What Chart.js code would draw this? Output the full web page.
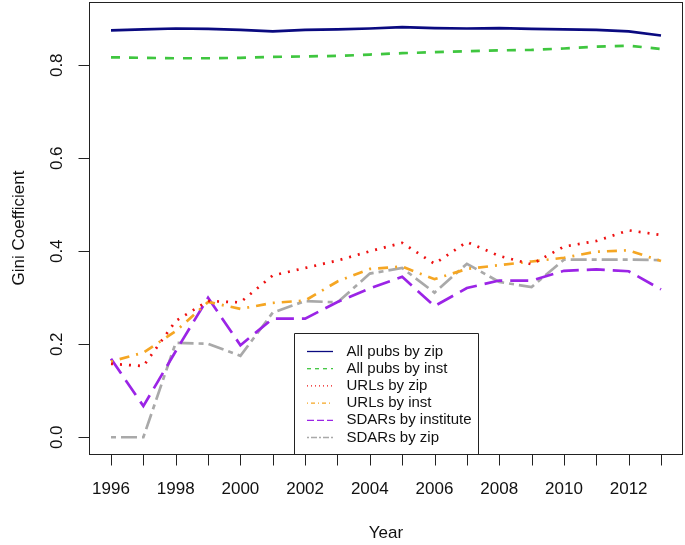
<!DOCTYPE html>
<html>
<head>
<meta charset="utf-8">
<script src="https://cdn.jsdelivr.net/npm/chart.js@4"></script>
<style>
  html, body { margin: 0; padding: 0; background: #fff; }
  canvas { display: block; }
</style>
</head>
<body>
<canvas id="chart" width="685" height="545"></canvas>
<script>
// Daten
const years = [1996, 1997, 1998, 1999, 2000, 2001, 2002, 2003, 2004, 2005, 2006, 2007, 2008, 2009, 2010, 2011, 2012, 2013];
const allPubsByZip = [0.875, 0.877, 0.879, 0.878, 0.876, 0.873, 0.876, 0.877, 0.879, 0.882, 0.880, 0.879, 0.880, 0.878, 0.877, 0.876, 0.873, 0.864];
const allPubsByInst = [0.817, 0.816, 0.815, 0.815, 0.816, 0.818, 0.819, 0.820, 0.823, 0.826, 0.828, 0.830, 0.832, 0.833, 0.836, 0.840, 0.842, 0.835];
const urlsByZip = [0.158, 0.153, 0.250, 0.293, 0.290, 0.348, 0.364, 0.380, 0.400, 0.418, 0.373, 0.420, 0.390, 0.372, 0.410, 0.422, 0.445, 0.435];
const urlsByInst = [0.163, 0.182, 0.228, 0.291, 0.276, 0.289, 0.294, 0.335, 0.362, 0.367, 0.340, 0.362, 0.370, 0.378, 0.386, 0.399, 0.402, 0.379];
const sdarsByInstitute = [0.169, 0.067, 0.185, 0.300, 0.198, 0.255, 0.255, 0.291, 0.320, 0.345, 0.282, 0.321, 0.337, 0.337, 0.358, 0.361, 0.357, 0.318];
const sdarsByZip = [0.0, 0.0, 0.203, 0.201, 0.175, 0.268, 0.293, 0.290, 0.352, 0.364, 0.311, 0.373, 0.334, 0.323, 0.382, 0.382, 0.382, 0.381];

const yTicks = [0.0, 0.2, 0.4, 0.6, 0.8];
const xTickLabels = [1996, 1998, 2000, 2002, 2004, 2006, 2008, 2010, 2012];

const FONT = '"Liberation Sans", Arial, Helvetica, sans-serif';

// Serien-Definition: Name, Werte, Farbe, Strichmuster (Linie / Legende)
const series = [
    { name: 'All pubs by zip', values: allPubsByZip, color: '#0a0a80', dash: [], legendDash: [] },
    { name: 'All pubs by inst', values: allPubsByInst, color: '#3fc63f', dash: [9, 9], legendDash: [4, 4] },
    { name: 'URLs by zip', values: urlsByZip, color: '#ee1111', dash: [2, 7], legendDash: [1, 3] },
    { name: 'URLs by inst', values: urlsByInst, color: '#f5a623', dash: [2, 7, 10, 7], legendDash: [1, 3, 4, 3] },
    { name: 'SDARs by institute', values: sdarsByInstitute, color: '#9b24e6', dash: [18, 8], legendDash: [7, 3] },
    { name: 'SDARs by zip', values: sdarsByZip, color: '#a9a9a9', dash: [5, 5, 16, 5], legendDash: [2, 2, 6, 2] }
];

// Achsen, Box und Legende im Stil von R-Basisgrafik zeichnen
const rStylePlugin = {
    id: 'rStyle',
    afterDatasetsDraw(chart) {
        const ctx = chart.ctx;
        const area = chart.chartArea;
        const xs = chart.scales.x;
        const ys = chart.scales.y;

        ctx.save();
        ctx.strokeStyle = '#222';
        ctx.lineWidth = 1;
        ctx.setLineDash([]);

        // Rahmen
        ctx.strokeRect(Math.round(area.left) + 0.5, Math.round(area.top) + 0.5,
            Math.round(area.right - area.left) - 1, Math.round(area.bottom - area.top));

        ctx.fillStyle = '#111';
        ctx.font = '17px ' + FONT;

        // X-Achse: Striche für jedes Jahr, Beschriftung jedes zweite
        const xAxisY = Math.round(area.bottom) + 0.5;
        years.forEach(yr => {
            const px = Math.round(xs.getPixelForValue(yr)) + 0.5;
            ctx.beginPath();
            ctx.moveTo(px, xAxisY);
            ctx.lineTo(px, xAxisY + 11);
            ctx.stroke();
        });
        ctx.textAlign = 'center';
        ctx.textBaseline = 'middle';
        xTickLabels.forEach(yr => {
            ctx.fillText(String(yr), xs.getPixelForValue(yr), 489);
        });

        // Y-Achse: Striche und gedrehte Beschriftung
        yTicks.forEach(v => {
            const py = Math.round(ys.getPixelForValue(v)) + 0.5;
            ctx.beginPath();
            ctx.moveTo(Math.round(area.left) + 0.5, py);
            ctx.lineTo(Math.round(area.left) - 10.5, py);
            ctx.stroke();
            ctx.save();
            ctx.translate(57, ys.getPixelForValue(v));
            ctx.rotate(-Math.PI / 2);
            ctx.fillText(v.toFixed(1), 0, 0);
            ctx.restore();
        });

        // Achsentitel
        ctx.fillText('Year', (area.left + area.right) / 2, 533);
        ctx.save();
        ctx.translate(19, (area.top + area.bottom) / 2);
        ctx.rotate(-Math.PI / 2);
        ctx.fillText('Gini Coefficient', 0, 0);
        ctx.restore();

        // Legende
        const lgLeft = 294.5, lgRight = 478.5, lgTop = 333.5;
        ctx.strokeStyle = '#222';
        ctx.beginPath();
        ctx.moveTo(lgLeft, Math.round(area.bottom) + 0.5);
        ctx.lineTo(lgLeft, lgTop);
        ctx.lineTo(lgRight, lgTop);
        ctx.lineTo(lgRight, Math.round(area.bottom) + 0.5);
        ctx.stroke();

        ctx.font = '15px ' + FONT;
        ctx.textAlign = 'left';
        series.forEach((s, i) => {
            const rowY = 351.5 + i * 17.2;
            ctx.strokeStyle = s.color;
            ctx.lineWidth = 1.3;
            ctx.setLineDash(s.legendDash);
            ctx.beginPath();
            ctx.moveTo(307, rowY);
            ctx.lineTo(333, rowY);
            ctx.stroke();
            ctx.setLineDash([]);
            ctx.fillStyle = '#111';
            ctx.fillText(s.name, 346.5, rowY);
        });

        ctx.restore();
    }
};

new Chart(document.getElementById('chart'), {
    type: 'line',
    data: {
        datasets: series.map(s => ({
            label: s.name,
            data: years.map((yr, i) => ({ x: yr, y: s.values[i] })),
            borderColor: s.color,
            backgroundColor: s.color,
            borderWidth: 2.7,
            borderDash: s.dash,
            pointRadius: 0,
            tension: 0,
            fill: false
        }))
    },
    options: {
        responsive: false,
        animation: false,
        devicePixelRatio: 1,
        layout: { padding: { left: 89, right: 2, top: 2, bottom: 91 } },
        plugins: {
            legend: { display: false },
            tooltip: { enabled: false }
        },
        scales: {
            x: { type: 'linear', min: 1995.32, max: 2013.68, display: false },
            y: { type: 'linear', min: -0.036, max: 0.936, display: false }
        }
    },
    plugins: [rStylePlugin]
});
</script>
</body>
</html>
